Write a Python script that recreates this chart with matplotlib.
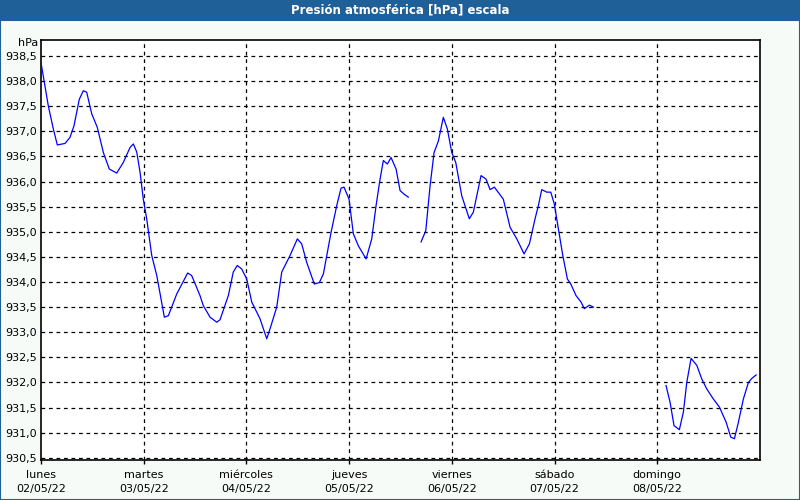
import matplotlib
matplotlib.use("Agg")
import matplotlib.pyplot as plt
from matplotlib.patches import Rectangle
from matplotlib.ticker import FuncFormatter
import numpy as np

TITLE = "Presión atmosférica [hPa] escala"
UNIT = "hPa"
DAY_LABELS = ["lunes\n02/05/22", "martes\n03/05/22", "miércoles\n04/05/22",
              "jueves\n05/05/22", "viernes\n06/05/22", "sábado\n07/05/22",
              "domingo\n08/05/22"]

# time in days from lunes 00:00, pressure in hPa (three pieces, gaps between)
seg1_x = [0.000, 0.071, 0.120, 0.159, 0.234, 0.282, 0.321, 0.373, 0.412, 0.445,
          0.494, 0.548, 0.607, 0.665, 0.737, 0.801, 0.867, 0.899, 0.932, 0.964,
          0.996, 1.029, 1.078, 1.127, 1.201, 1.240, 1.321, 1.428, 1.467, 1.548,
          1.580, 1.646, 1.711, 1.743, 1.824, 1.872, 1.911, 1.954, 2.003, 2.052,
          2.132, 2.198, 2.230, 2.295, 2.344, 2.425, 2.496, 2.538, 2.587, 2.661,
          2.710, 2.749, 2.824, 2.879, 2.921, 2.950, 2.999, 3.041, 3.090, 3.165,
          3.220, 3.262, 3.301, 3.333, 3.372, 3.408, 3.457, 3.496, 3.535, 3.576]
seg1_p = [938.37, 937.51, 937.05, 936.73, 936.76, 936.88, 937.11, 937.64, 937.81, 937.78,
          937.35, 937.08, 936.58, 936.25, 936.17, 936.38, 936.68, 936.75, 936.59, 936.19,
          935.65, 935.26, 934.53, 934.13, 933.30, 933.33, 933.76, 934.18, 934.13, 933.73,
          933.53, 933.30, 933.20, 933.25, 933.73, 934.20, 934.33, 934.26, 934.06, 933.60,
          933.27, 932.87, 933.07, 933.50, 934.20, 934.53, 934.86, 934.76, 934.39, 933.96,
          933.99, 934.16, 934.99, 935.52, 935.87, 935.89, 935.65, 934.96, 934.72, 934.46,
          934.86, 935.52, 936.05, 936.42, 936.35, 936.48, 936.25, 935.82, 935.75, 935.69]

seg2_x = [3.700, 3.746, 3.788, 3.827, 3.869, 3.917, 3.956, 3.999, 4.038, 4.096,
          4.128, 4.170, 4.209, 4.284, 4.333, 4.372, 4.414, 4.501, 4.567, 4.632,
          4.703, 4.755, 4.810, 4.842, 4.875, 4.924, 4.963, 4.998, 5.037, 5.080,
          5.125, 5.158, 5.209, 5.258, 5.290, 5.339, 5.378]
seg2_p = [934.80, 935.02, 935.92, 936.58, 936.81, 937.28, 937.05, 936.58, 936.38, 935.72,
          935.52, 935.26, 935.39, 936.12, 936.05, 935.84, 935.89, 935.65, 935.09, 934.86,
          934.56, 934.76, 935.26, 935.52, 935.84, 935.79, 935.79, 935.55, 935.06, 934.53,
          934.06, 933.96, 933.73, 933.60, 933.47, 933.54, 933.50]

seg3_x = [6.085, 6.124, 6.163, 6.215, 6.254, 6.287, 6.329, 6.385, 6.433, 6.482,
          6.546, 6.605, 6.670, 6.716, 6.751, 6.790, 6.838, 6.887, 6.920, 6.962]
seg3_p = [931.94, 931.61, 931.14, 931.06, 931.41, 932.00, 932.48, 932.34, 932.07, 931.87,
          931.67, 931.51, 931.21, 930.91, 930.88, 931.21, 931.67, 932.00, 932.08, 932.15]

BAR = "#1f6099"

fig = plt.figure(figsize=(8, 5), dpi=100, facecolor="#f7fbf7")
# title bar and window border
fig.patches.append(Rectangle((0, 0.96), 1, 0.04, transform=fig.transFigure,
                             facecolor=BAR, edgecolor="none", zorder=0))
fig.patches.append(Rectangle((0.0006, 0.001), 0.9988, 0.96, transform=fig.transFigure,
                             facecolor="none", edgecolor=BAR, lw=1.5, zorder=0))
fig.text(0.5, 0.98, TITLE, color="white", fontsize=8.5, fontweight="bold",
         ha="center", va="center")

ax = fig.add_axes([41 / 800, 1 - 460 / 500, 719 / 800, 420 / 500])
ax.set_facecolor("white")

for xs, ps in [(seg1_x, seg1_p), (seg2_x, seg2_p), (seg3_x, seg3_p)]:
    ax.plot(xs, ps, color="#0000ff", lw=0.9, zorder=3)

ax.set_xlim(0, 7)
ax.set_ylim(930.456, 938.82)

yt = np.arange(930.5, 938.51, 0.5)
ax.set_yticks(yt)
ax.yaxis.set_major_formatter(FuncFormatter(lambda v, _: f"{v:.1f}".replace(".", ",")))
ax.set_xticks(range(7))
ax.set_xticklabels(DAY_LABELS, linespacing=1.55)

ax.tick_params(axis="y", length=0, pad=3, labelsize=8)
ax.tick_params(axis="x", length=3, width=1, pad=4, labelsize=8)

grid_style = dict(color="black", lw=0.9, ls=(0, (3, 3)), zorder=1)
for v in yt:
    ax.axhline(v, **grid_style)
for d in range(1, 7):
    ax.axvline(d, **grid_style)

for s in ax.spines.values():
    s.set_linewidth(1.2)
    s.set_color("black")

ax.text(-0.004, 1.004, UNIT, transform=ax.transAxes, ha="right", va="top",
        fontsize=8)

fig.savefig("out.png", dpi=100, facecolor=fig.get_facecolor())
